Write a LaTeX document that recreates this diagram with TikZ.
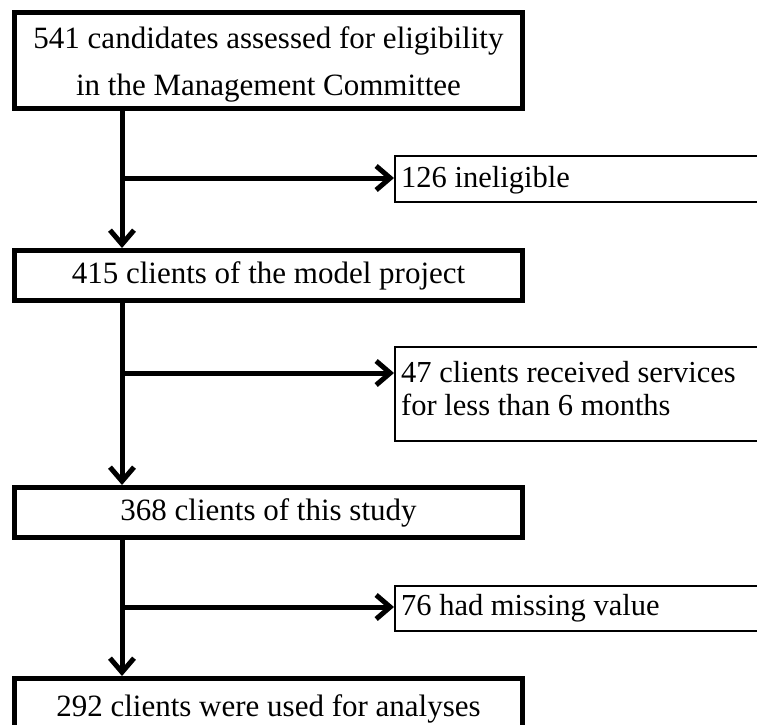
\documentclass[tikz,border=0pt]{standalone}
\usepackage{fontspec}
\setmainfont{Liberation Serif}
\usetikzlibrary{arrows.meta}
\begin{document}
\begin{tikzpicture}[x=1pt,y=-1pt,
  mainfont/.style={font=\fontsize{31}{47}\selectfont},
  sidefont/.style={font=\fontsize{30.5}{33}\selectfont},
  mainbox/.style={draw, line width=5pt, inner sep=0pt, minimum width=508pt, align=center, mainfont},
  sidebox/.style={draw, line width=1.8pt, anchor=west, inner sep=0pt, minimum width=400pt},
  sidetext/.style={sidefont, align=left, anchor=west, inner xsep=7pt, inner ysep=0pt},
  flow/.style={line width=5pt, -{Straight Barb[length=14pt,width=24pt]}}]
\clip (0,0) rectangle (757,724);
\fill[white] (0,0) rectangle (757,724);
% main boxes
\node[mainbox, minimum height=96pt,
  label={[mainfont, align=center, yshift=-4pt]center:541 candidates assessed for eligibility\\in the Management Committee}] (b1) at (268.5,60.5) {};
\node[mainbox, minimum height=50pt] (b2) at (268.5,275.5) {415 clients of the model project};
\node[mainbox, minimum height=50pt] (b3) at (268.5,512.5) {368 clients of this study};
\node[mainbox, minimum height=60pt] (b4) at (268.5,708.5) {292 clients were used for analyses};
% side boxes
\node[sidebox, minimum height=46pt,
  label={[sidetext, yshift=-1.5pt]west:126 ineligible}] (s1) at (394,179) {};
\node[sidebox, minimum height=94pt,
  label={[sidetext, yshift=5pt]west:47 clients received services\\for less than 6 months}] (s2) at (394,394) {};
\node[sidebox, minimum height=45pt,
  label={[sidetext]west:76 had missing value}] (s3) at (394,608.5) {};
% spine coordinates
\coordinate (sp) at (122,0);
\coordinate (k1) at (122,178);
\coordinate (k2) at (122,373);
\coordinate (k3) at (122,607);
% vertical connectors
\draw[flow] (b1.south -| sp) -- (b2.north -| sp);
\draw[flow] (b2.south -| sp) -- (b3.north -| sp);
\draw[flow] (b3.south -| sp) -- (b4.north -| sp);
% branches
\draw[flow] (k1) -- (k1 -| s1.west);
\draw[flow] (k2) -- (k2 -| s2.west);
\draw[flow] (k3) -- (k3 -| s3.west);
\end{tikzpicture}
\end{document}
